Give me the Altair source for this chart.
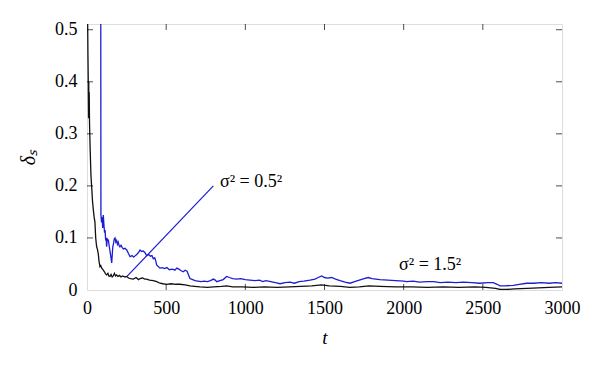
import altair as alt
import pandas as pd

# ---- data ----
t_black = [1, 4, 6, 8, 10, 11, 12, 14, 16, 20, 25, 30, 35, 40, 45, 50, 55, 61, 66, 71, 76, 82, 87, 93, 98,
           103, 110, 117, 124, 132, 138, 145, 152, 159, 166, 173, 180, 187, 195, 205, 215, 225, 240, 251,
           262, 275, 293, 310, 325, 335, 350, 365, 377, 395, 419, 440, 461, 480, 503, 530, 560, 587, 620,
           650, 680, 714, 760, 800, 850, 882, 920, 980, 1050, 1120, 1200, 1280, 1350, 1420, 1480, 1530,
           1600, 1660, 1720, 1780, 1850, 1950, 2050, 2150, 2250, 2350, 2450, 2520, 2580, 2610, 2650, 2700,
           2780, 2850, 2920, 3000]
v_black = [0.62, 0.52, 0.45, 0.40, 0.33, 0.40, 0.34, 0.38, 0.32, 0.27, 0.22, 0.196, 0.17, 0.154, 0.14,
           0.131, 0.10, 0.083, 0.078, 0.07, 0.055, 0.045, 0.047, 0.042, 0.040, 0.038, 0.035, 0.031, 0.029,
           0.032, 0.027, 0.026, 0.030, 0.025, 0.027, 0.032, 0.027, 0.029, 0.026, 0.028, 0.025, 0.027, 0.025,
           0.026, 0.023, 0.022, 0.021, 0.024, 0.020, 0.022, 0.023, 0.021, 0.021, 0.019, 0.018, 0.016, 0.013,
           0.012, 0.011, 0.012, 0.011, 0.011, 0.010, 0.008, 0.007, 0.006, 0.005, 0.006, 0.007, 0.008, 0.006,
           0.006, 0.005, 0.006, 0.005, 0.006, 0.007, 0.008, 0.010, 0.008, 0.007, 0.005, 0.006, 0.008, 0.007,
           0.006, 0.006, 0.005, 0.006, 0.005, 0.006, 0.005, 0.003, 0.001, 0.001, 0.002, 0.003, 0.004, 0.005,
           0.006]

t_blue = [86, 88, 92, 96, 99, 103, 107, 111, 114, 118, 121, 124, 128, 132, 135, 140, 145, 150, 156, 160,
          163, 168, 172, 177, 182, 187, 192, 197, 203, 208, 215, 222, 230, 240, 251, 262, 272, 285, 295,
          305, 314, 325, 335, 345, 355, 365, 377, 390, 400, 410, 419, 428, 435, 440, 450, 461, 475, 490,
          505, 520, 540, 555, 567, 580, 595, 608, 620, 632, 640, 650, 660, 682, 700, 720, 740, 760, 780,
          798, 810, 819, 840, 860, 882, 900, 920, 945, 970, 1000, 1029, 1060, 1090, 1110, 1130, 1160, 1190,
          1219, 1250, 1282, 1310, 1340, 1370, 1408, 1440, 1460, 1482, 1500, 1520, 1545, 1570, 1598, 1630,
          1661, 1690, 1720, 1750, 1777, 1800, 1850, 1900, 1950, 2000, 2019, 2060, 2100, 2150, 2190, 2230,
          2280, 2330, 2380, 2430, 2480, 2530, 2566, 2590, 2608, 2640, 2693, 2730, 2777, 2820, 2870, 2920,
          2960, 3000]
v_blue = [0.9, 0.144, 0.13, 0.14, 0.119, 0.144, 0.125, 0.110, 0.115, 0.095, 0.100, 0.083, 0.098, 0.096,
          0.096, 0.085, 0.075, 0.065, 0.052, 0.070, 0.083, 0.090, 0.098, 0.100, 0.092, 0.095, 0.088, 0.092,
          0.085, 0.083, 0.086, 0.082, 0.079, 0.080, 0.077, 0.070, 0.064, 0.066, 0.063, 0.066, 0.068, 0.072,
          0.077, 0.074, 0.075, 0.072, 0.066, 0.068, 0.065, 0.066, 0.060, 0.062, 0.055, 0.048, 0.045, 0.042,
          0.043, 0.041, 0.043, 0.039, 0.040, 0.038, 0.042, 0.040, 0.037, 0.035, 0.038, 0.036, 0.030, 0.022,
          0.021, 0.018, 0.017, 0.016, 0.017, 0.016, 0.018, 0.021, 0.019, 0.016, 0.018, 0.020, 0.026, 0.024,
          0.022, 0.021, 0.022, 0.020, 0.019, 0.018, 0.019, 0.016, 0.018, 0.016, 0.014, 0.012, 0.014, 0.015,
          0.013, 0.016, 0.017, 0.019, 0.021, 0.024, 0.027, 0.024, 0.023, 0.024, 0.021, 0.018, 0.015, 0.013,
          0.016, 0.019, 0.022, 0.024, 0.022, 0.020, 0.019, 0.018, 0.017, 0.016, 0.017, 0.015, 0.016, 0.016,
          0.014, 0.015, 0.014, 0.015, 0.014, 0.013, 0.014, 0.014, 0.011, 0.008, 0.008, 0.009, 0.011, 0.013,
          0.013, 0.014, 0.013, 0.014, 0.013]

x_ticks = [0, 500, 1000, 1500, 2000, 2500, 3000]
y_ticks = [0, 0.1, 0.2, 0.3, 0.4, 0.5]

ann_t = [251, 798]
ann_v = [0.0256, 0.200]

label_text = ["σ² = 0.5²", "σ² = 1.5²"]
label_t = [840, 1971]
label_v = [0.198, 0.038]

# ---- chart ----
W, H = 475, 266
FONT = "Liberation Serif"
BLUE = "#1c1cd2"

xs = alt.Scale(domain=[0, 3000], nice=False, zero=False, padding=0)
ys = alt.Scale(domain=[0, 0.511], nice=False, zero=False, padding=0)

ax_x = alt.Axis(values=x_ticks, format="d", ticks=False, domain=False, grid=False, labelFlush=False,
                labelFont=FONT, labelFontSize=18, labelColor="black", labelPadding=9,
                title="t", titleFont=FONT, titleFontSize=19, titleFontStyle="italic",
                titleFontWeight="normal", titleColor="black", titlePadding=11)
ax_y = alt.Axis(values=y_ticks, ticks=False, domain=False, grid=False, labelFlush=False,
                labelExpr="datum.value == 0 ? '0' : format(datum.value, '.1f')",
                labelFont=FONT, labelFontSize=18, labelColor="black", labelPadding=10,
                title="δₛ", titleFont=FONT, titleFontSize=20, titleFontStyle="italic",
                titleFontWeight="normal", titleColor="black", titlePadding=16)

df_black = pd.DataFrame({"t": t_black, "v": v_black})
df_blue = pd.DataFrame({"t": t_blue, "v": v_blue})
df_ann = pd.DataFrame({"t": ann_t, "v": ann_v})
df_lab = pd.DataFrame({"t": label_t, "v": label_v, "txt": label_text})
df_xt = pd.DataFrame({"t": x_ticks[1:-1]})
df_yt = pd.DataFrame({"v": y_ticks[1:]})

X = alt.X("t:Q", scale=xs, axis=ax_x)
Y = alt.Y("v:Q", scale=ys, axis=ax_y)

blue = alt.Chart(df_blue).mark_line(clip=True, color=BLUE, strokeWidth=1.3).encode(x=X, y=Y)
black = alt.Chart(df_black).mark_line(clip=True, color="#111111", strokeWidth=1.3).encode(x=X, y=Y)
ann = alt.Chart(df_ann).mark_line(color=BLUE, strokeWidth=1.2).encode(x=X, y=Y)
labels = alt.Chart(df_lab).mark_text(font=FONT, fontSize=18, align="left", baseline="alphabetic",
                                     color="black").encode(x=X, y=Y, text="txt:N")

xt_bottom = alt.Chart(df_xt).mark_tick(color="black", thickness=1, size=6).encode(x=X, y=alt.value(H - 3))
xt_top = alt.Chart(df_xt).mark_tick(color="black", thickness=1, size=6).encode(x=X, y=alt.value(3))
yt_left = alt.Chart(df_yt).mark_tick(color="black", thickness=1, size=6).encode(y=Y, x=alt.value(3))
yt_right = alt.Chart(df_yt).mark_tick(color="black", thickness=1, size=6).encode(y=Y, x=alt.value(W - 3))

chart = alt.layer(blue, black, ann, labels, xt_bottom, xt_top, yt_left, yt_right).properties(
    width=W, height=H,
    autosize=alt.AutoSizeParams(type="none"),
    padding={"left": 79, "top": 16, "right": 30, "bottom": 62},
).configure_view(stroke="#222222", strokeWidth=1.3).configure(background="white")

chart.save("out.html", embed_options={"renderer": "svg", "actions": False})
